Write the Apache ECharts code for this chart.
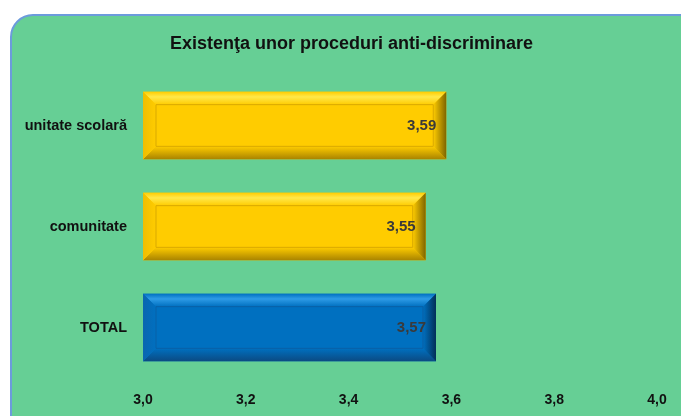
<!DOCTYPE html>
<html><head><meta charset="utf-8">
<script src="https://cdn.jsdelivr.net/npm/echarts@6/dist/echarts.min.js"></script>
<style>html,body{margin:0;padding:0;background:#fff}#c{width:681px;height:416px}</style>
</head><body><div id="c"></div>
<script>
var titleText = 'Existenţa unor proceduri anti-discriminare';
var categories = ['unitate scolară', 'comunitate', 'TOTAL'];
var values = [3.59, 3.55, 3.57];
var tickLabels = ['3,0', '3,2', '3,4', '3,6', '3,8', '4,0'];
var palettes = [
  {face:'#FFCC00', top:'#FFE84A', bottom:'#A88300', left:'#F0BE00', right:'#7E6400', line:'#D9A900'},
  {face:'#FFCC00', top:'#FFE84A', bottom:'#A88300', left:'#F0BE00', right:'#7E6400', line:'#D9A900'},
  {face:'#0070C0', top:'#2E9BE6', bottom:'#0B4A82', left:'#0A66B0', right:'#032F57', line:'#0960A6'}
];
var chart = echarts.init(document.getElementById('c'));
function fmt(v){ return v.toFixed(2).replace('.', ','); }
chart.setOption({
  animation: false,
  graphic: [{
    type: 'rect', left: 10, top: 14, z: -10,
    shape: {width: 700, height: 440, r: 22},
    style: {fill: '#66CF95', stroke: '#6C9BDC', lineWidth: 2}
  }],
  title: {
    text: titleText, left: 165, top: 30,
    textStyle: {fontFamily: 'Liberation Sans', fontWeight: 'bold', fontSize: 18, color: '#111'}
  },
  grid: {left: 143, right: 24, top: 75, bottom: 38, containLabel: false},
  xAxis: {
    type: 'value', min: 3.0, max: 4.0, interval: 0.2,
    axisLine: {show: false}, axisTick: {show: false}, splitLine: {show: false},
    axisLabel: {
      margin: 15, fontFamily: 'Liberation Sans', fontWeight: 'bold', fontSize: 14, color: '#111',
      formatter: function(v){ return tickLabels[Math.round((v - 3.0) / 0.2)]; }
    }
  },
  yAxis: {
    type: 'category', data: categories, inverse: true,
    axisLine: {show: false}, axisTick: {show: false},
    axisLabel: {margin: 16, fontFamily: 'Liberation Sans', fontWeight: 'bold', fontSize: 14.5, color: '#111'}
  },
  series: [{
    type: 'custom',
    data: values.map(function(v, i){ return [v, i]; }),
    encode: {x: 0, y: 1},
    renderItem: function(params, api){
      var v = api.value(0), idx = api.value(1);
      var p0 = api.coord([3.0, idx]);
      var p1 = api.coord([v, idx]);
      var h = api.size([0, 1])[1] * 0.67;
      var x0 = p0[0], x1 = p1[0], y0 = p0[1] - h / 2, y1 = p0[1] + h / 2;
      var b = 13;
      var c = palettes[idx];
      return {
        type: 'group',
        children: [
          {type: 'rect', shape: {x: x0, y: y0, width: x1 - x0, height: h}, style: {fill: c.face}},
          {type: 'polygon', shape: {points: [[x0, y0], [x1, y0], [x1 - b, y0 + b], [x0 + b, y0 + b]]},
            style: {fill: new echarts.graphic.LinearGradient(0, 0, 0, 1, [{offset: 0, color: c.face}, {offset: 0.4, color: c.top}, {offset: 1, color: c.face}])}},
          {type: 'polygon', shape: {points: [[x0, y1], [x1, y1], [x1 - b, y1 - b], [x0 + b, y1 - b]]},
            style: {fill: new echarts.graphic.LinearGradient(0, 0, 0, 1, [{offset: 0, color: c.face}, {offset: 1, color: c.bottom}])}},
          {type: 'polygon', shape: {points: [[x0, y0], [x0 + b, y0 + b], [x0 + b, y1 - b], [x0, y1]]},
            style: {fill: new echarts.graphic.LinearGradient(0, 0, 1, 0, [{offset: 0, color: c.left}, {offset: 1, color: c.face}])}},
          {type: 'polygon', shape: {points: [[x1, y0], [x1 - b, y0 + b], [x1 - b, y1 - b], [x1, y1]]},
            style: {fill: new echarts.graphic.LinearGradient(0, 0, 1, 0, [{offset: 0, color: c.face}, {offset: 1, color: c.right}])}},
          {type: 'rect', shape: {x: x0 + b, y: y0 + b, width: x1 - x0 - 2 * b, height: h - 2 * b},
            style: {fill: 'none', stroke: c.line, lineWidth: 1}},
          {type: 'text', x: x1 - 10, y: p0[1],
            style: {text: fmt(v), align: 'right', verticalAlign: 'middle', fill: '#3a3a3a',
              font: 'bold 15px "Liberation Sans"'}}
        ]
      };
    }
  }]
});
</script></body></html>
